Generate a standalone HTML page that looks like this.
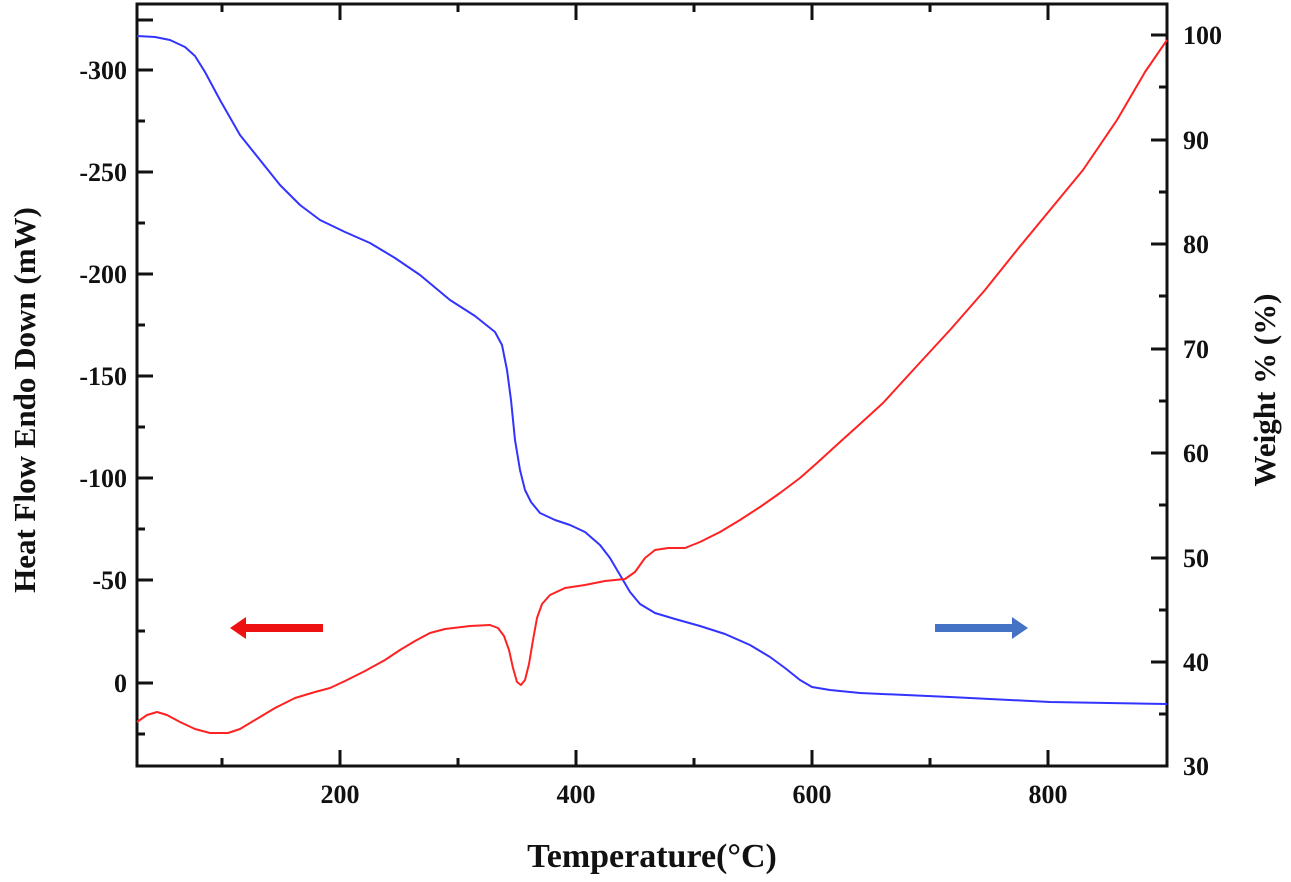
<!DOCTYPE html>
<html><head><style>body{margin:0;background:#fff}svg{display:block}text{font-family:"Liberation Serif",serif;font-weight:bold;fill:#111}</style></head><body>
<svg width="1291" height="882" xmlns="http://www.w3.org/2000/svg">
<g stroke="#111" stroke-width="3" fill="none">
<rect x="137" y="4" width="1030" height="762"/>
<path d="M222,766v-8M340,766v-16M458,766v-8M576,766v-16M694,766v-8M812,766v-16M930,766v-8M1048,766v-16M222,4v8M340,4v16M458,4v8M576,4v16M694,4v8M812,4v16M930,4v8M1048,4v16"/>
<path d="M137,20h16M137,70h16M137,121h8M137,172h16M137,223h8M137,274h16M137,325h8M137,376h16M137,427h8M137,478h16M137,529h8M137,580h16M137,631h8M137,683h16M137,734h8"/>
<path d="M1167,35h-16M1167,87h-8M1167,140h-16M1167,192h-8M1167,244h-16M1167,296h-8M1167,349h-16M1167,401h-8M1167,453h-16M1167,505h-8M1167,558h-16M1167,610h-8M1167,662h-16M1167,714h-8"/>
</g>
<g font-size="26" text-anchor="end">
<text x="127" y="79">-300</text><text x="127" y="181">-250</text><text x="127" y="283">-200</text><text x="127" y="385">-150</text><text x="127" y="487">-100</text><text x="127" y="589">-50</text><text x="127" y="692">0</text>
</g>
<g font-size="26" text-anchor="start">
<text x="1183" y="44">100</text><text x="1183" y="149">90</text><text x="1183" y="253">80</text><text x="1183" y="358">70</text><text x="1183" y="462">60</text><text x="1183" y="567">50</text><text x="1183" y="671">40</text><text x="1183" y="775">30</text>
</g>
<g font-size="26" text-anchor="middle">
<text x="340" y="803">200</text><text x="576" y="803">400</text><text x="812" y="803">600</text><text x="1048" y="803">800</text>
</g>
<text x="652" y="867" font-size="34" text-anchor="middle">Temperature(°C)</text>
<text transform="translate(35,400) rotate(-90)" font-size="31" text-anchor="middle">Heat Flow Endo Down (mW)</text>
<text transform="translate(1275,390) rotate(-90)" font-size="31" text-anchor="middle">Weight % (%)</text>
<g fill="none" stroke-width="2" stroke-linejoin="round">
<polyline stroke="#3333ff" points="137,36 155,37 170,40 185,47 195,56 205,72 220,100 240,135 260,160 280,185 300,205 320,220 345,232 370,243 395,258 420,275 450,300 475,316 495,332 502,345 507,370 511,400 515,440 520,470 525,490 531,502 540,513 555,520 570,525 585,532 600,545 610,558 620,575 630,592 640,604 655,613 675,619 700,626 725,634 750,645 770,657 785,668 800,680 812,687 830,690 860,693 950,697 1050,702 1167,704"/>
<polyline stroke="#ff2222" points="137,722 147,715 157,712 167,715 180,722 195,729 210,733 228,733 240,729 255,720 275,708 295,698 315,692 330,688 345,681 365,671 385,660 400,650 415,641 430,633 445,629 470,626 490,625 498,628 504,636 509,650 513,668 517,682 521,685 525,680 529,664 533,640 537,618 542,604 550,595 565,588 585,585 605,581 625,579 635,572 645,558 655,550 668,548 685,548 700,542 720,532 740,520 760,507 780,493 800,478 817,463 840,442 860,424 883,403 915,368 950,330 985,290 1017,250 1050,210 1083,170 1117,120 1145,72 1167,40"/>
</g>
<path fill="#ee1111" d="M230,628 l16,-11 v7 h77 v8 h-77 v7 z"/>
<path fill="#4472c4" d="M1028,628 l-16,-11 v7 h-77 v8 h77 v7 z"/>
</svg>
</body></html>
